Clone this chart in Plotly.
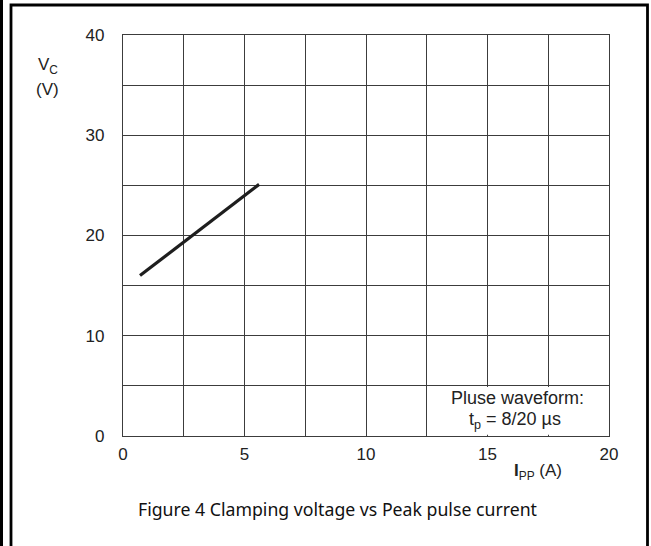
import plotly.graph_objects as go

# Data
ipp_a = [0.7, 5.6]        # peak pulse current (A)
vc_v = [16.0, 25.1]       # clamping voltage (V)

x_ticks = [0, 5, 10, 15, 20]
y_ticks = [0, 10, 20, 30, 40]

title_text = "Figure 4 Clamping voltage vs Peak pulse current"
note_line1 = "Pluse waveform:"
note_line2 = "t<sub>p</sub> = 8/20 µs"

grid_col = "#3c3c3c"
txt_font = dict(family="Liberation Sans, Arial, sans-serif", size=17, color="#222")
note_font = dict(family="Liberation Sans, Arial, sans-serif", size=18, color="#222")

fig = go.Figure()
fig.add_trace(go.Scatter(x=ipp_a, y=vc_v, mode="lines",
                         line=dict(color="#1e1e1e", width=3.2),
                         hoverinfo="skip", showlegend=False))

axis_common = dict(showline=True, linecolor=grid_col, linewidth=1.3, mirror=True,
                   showgrid=True, gridcolor=grid_col, gridwidth=1.3,
                   zeroline=False, ticks="", tickfont=txt_font,
                   minor=dict(showgrid=True, gridcolor=grid_col, gridwidth=1.3))

fig.update_xaxes(range=[0, 20], tickvals=x_ticks, ticktext=[str(v) for v in x_ticks],
                 ticklabelstandoff=2, **axis_common)
fig.update_xaxes(minor_dtick=2.5, minor_tick0=0)
fig.update_yaxes(range=[0, 40], tickvals=y_ticks, ticktext=[str(v) for v in y_ticks],
                 ticklabelstandoff=14, **axis_common)
fig.update_yaxes(minor_dtick=5, minor_tick0=0)

def px(xp):
    return (xp - 123) / 486

def py(yp):
    return (436 - yp) / 401

shapes = [
    # white patch hiding inner grid lines in the note box
    dict(type="rect", xref="x", yref="y", x0=12.62, x1=19.9, y0=0.12, y1=4.88,
         fillcolor="white", line=dict(width=0), layer="above"),
    # outer frame
    dict(type="rect", xref="paper", yref="paper", x0=px(11), x1=px(647.5), y0=py(560), y1=py(5),
         line=dict(color="black", width=2.8), fillcolor="rgba(0,0,0,0)", layer="above"),
    dict(type="rect", xref="paper", yref="paper", x0=px(0), x1=px(3), y0=py(560), y1=py(-10),
         line=dict(width=0), fillcolor="black", layer="above"),
]

annotations = [
    dict(x=16.25, y=3.75, xref="x", yref="y", text=note_line1, showarrow=False,
         font=note_font, xanchor="center", yanchor="middle"),
    dict(x=16.15, y=1.5, xref="x", yref="y", text=note_line2, showarrow=False,
         font=note_font, xanchor="center", yanchor="middle"),
    dict(x=px(36), y=py(66), xref="paper", yref="paper",
         text="V<sub>C</sub>", showarrow=False, font=txt_font,
         xanchor="left", yanchor="middle"),
    dict(x=px(34), y=py(89), xref="paper", yref="paper",
         text="(V)", showarrow=False, font=txt_font,
         xanchor="left", yanchor="middle"),
    dict(x=px(512), y=py(472), xref="paper", yref="paper",
         text="<b>I</b><sub>PP</sub> (A)", showarrow=False, font=txt_font,
         xanchor="left", yanchor="middle"),
    dict(x=px(337), y=py(509), xref="paper", yref="paper",
         text=title_text, showarrow=False,
         font=dict(family="Noto Sans, Open Sans, sans-serif", size=17.7, color="#111"),
         xanchor="center", yanchor="middle"),
]

fig.update_layout(width=651, height=546,
                  margin=dict(l=123, r=42, t=35, b=110),
                  paper_bgcolor="white", plot_bgcolor="white",
                  shapes=shapes, annotations=annotations, showlegend=False)

fig.write_html("out.html", config={"displayModeBar": False},
               post_script="document.body.style.margin='0';")
